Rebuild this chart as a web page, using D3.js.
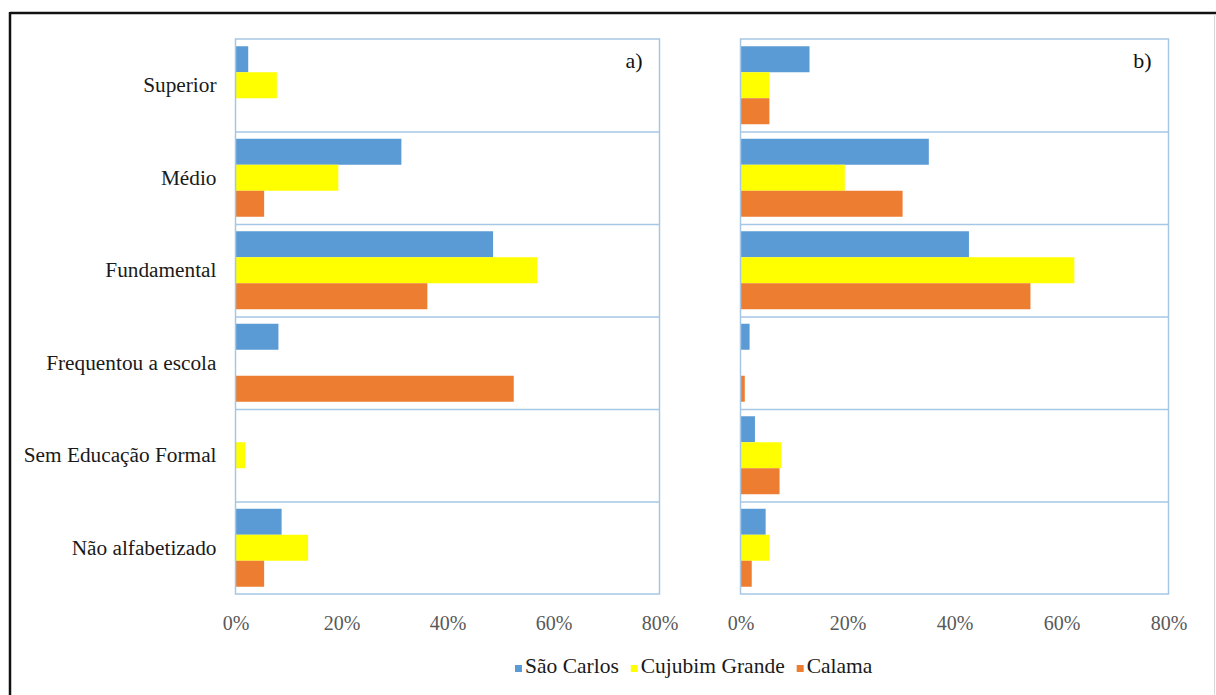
<!DOCTYPE html>
<html>
<head>
<meta charset="utf-8">
<script src="https://cdn.jsdelivr.net/npm/d3@7"></script>
<style>
  html, body { margin: 0; padding: 0; background: #fff; }
  svg { display: block; }
</style>
</head>
<body>
<svg id="chart" width="1216" height="695"></svg>
<script>
// Education level by community, two survey groups (a and b)
const categories = ["Superior", "Médio", "Fundamental", "Frequentou a escola", "Sem Educação Formal", "Não alfabetizado"];
const seriesNames = ["São Carlos", "Cujubim Grande", "Calama"];
const seriesColors = ["#5B9BD5", "#FFFF00", "#ED7D31"];

// Shares (fraction of respondents), one array per series, in category order
const aSaoCarlos     = [0.024, 0.313, 0.486, 0.081, 0.000, 0.087];
const aCujubimGrande = [0.078, 0.194, 0.569, 0.000, 0.018, 0.137];
const aCalama        = [0.000, 0.054, 0.362, 0.525, 0.000, 0.054];

const bSaoCarlos     = [0.129, 0.352, 0.427, 0.017, 0.027, 0.047];
const bCujubimGrande = [0.054, 0.195, 0.624, 0.000, 0.076, 0.054];
const bCalama        = [0.054, 0.303, 0.542, 0.008, 0.073, 0.021];

const tickValues = [0, 0.2, 0.4, 0.6, 0.8];

const SERIF = "'Liberation Serif', 'Times New Roman', serif";

const panels = [
  { label: "a)", values: [aSaoCarlos, aCujubimGrande, aCalama], x0: 235.5, x1: 659.5, showCats: true },
  { label: "b)", values: [bSaoCarlos, bCujubimGrande, bCalama], x0: 740.5, x1: 1168.5, showCats: false }
];

const svg = d3.select("#chart");
const plotTop = 39, plotBottom = 594;
const gridColor = "#A6C6E6";

// Frame around the figure
svg.append("line").attr("x1", 10).attr("x2", 1216).attr("y1", 13).attr("y2", 13)
  .attr("stroke", "#111").attr("stroke-width", 2.5);
svg.append("line").attr("x1", 10).attr("x2", 10).attr("y1", 12).attr("y2", 695)
  .attr("stroke", "#111").attr("stroke-width", 2.5);
svg.append("line").attr("x1", 1214.5).attr("x2", 1214.5).attr("y1", 14).attr("y2", 695)
  .attr("stroke", "#d8d8d8").attr("stroke-width", 1);

const y = d3.scaleBand().domain(categories).range([plotTop, plotBottom]).paddingInner(0).paddingOuter(0);
const ySeries = d3.scaleBand().domain(seriesNames)
  .range([7.25, y.bandwidth() - 7.25]).padding(0);

panels.forEach(p => {
  const x = d3.scaleLinear().domain([0, 0.8]).range([p.x0, p.x1]);
  const g = svg.append("g");

  // bars
  seriesNames.forEach((s, si) => {
    g.append("g").selectAll("rect")
      .data(categories.map((c, ci) => ({ c, v: p.values[si][ci] })))
      .join("rect")
      .attr("x", x(0))
      .attr("y", d => y(d.c) + ySeries(s))
      .attr("width", d => x(d.v) - x(0))
      .attr("height", ySeries.bandwidth())
      .attr("fill", seriesColors[si]);
  });

  // horizontal separators between categories
  g.append("g").selectAll("line")
    .data(categories.slice(1))
    .join("line")
    .attr("x1", x(0)).attr("x2", x(0.8))
    .attr("y1", d => y(d) + 0.5).attr("y2", d => y(d) + 0.5)
    .attr("stroke", gridColor).attr("stroke-width", 1.5);

  // plot border
  g.append("rect")
    .attr("x", x(0)).attr("y", plotTop)
    .attr("width", x(0.8) - x(0)).attr("height", plotBottom - plotTop)
    .attr("fill", "none").attr("stroke", gridColor).attr("stroke-width", 1.5);

  // x axis labels
  const ax = g.append("g").attr("transform", `translate(0,${plotBottom})`)
    .call(d3.axisBottom(x).tickValues(tickValues).tickSize(0).tickPadding(22)
      .tickFormat(d3.format(".0%")));
  ax.select(".domain").remove();
  ax.attr("font-family", SERIF).attr("font-size", 20);
  ax.selectAll("text").attr("fill", "#595959");

  // category labels
  if (p.showCats) {
    const ay = g.append("g").attr("transform", `translate(${x(0)},0)`)
      .call(d3.axisLeft(y).tickSize(0).tickPadding(19));
    ay.select(".domain").remove();
    ay.attr("font-family", SERIF).attr("font-size", 21.3);
    ay.selectAll("text").attr("fill", "#1a1a1a");
  }

  // panel tag
  g.append("text")
    .attr("x", x(0.8) - 17).attr("y", 68)
    .attr("text-anchor", "end")
    .attr("font-family", SERIF)
    .attr("font-size", 22).attr("fill", "#111")
    .text(p.label);
});

// legend, laid out left to right from measured text widths
const legend = svg.append("g").attr("font-family", SERIF).attr("font-size", 21.5);
let lx = 515;
seriesNames.forEach((s, i) => {
  legend.append("rect").attr("x", lx).attr("y", 665).attr("width", 7).attr("height", 7)
    .attr("fill", seriesColors[i]);
  const t = legend.append("text").attr("x", lx + 10).attr("y", 673)
    .attr("fill", "#1a1a1a").text(s);
  lx += 10 + t.node().getComputedTextLength() + 12;
});
</script>
</body>
</html>
